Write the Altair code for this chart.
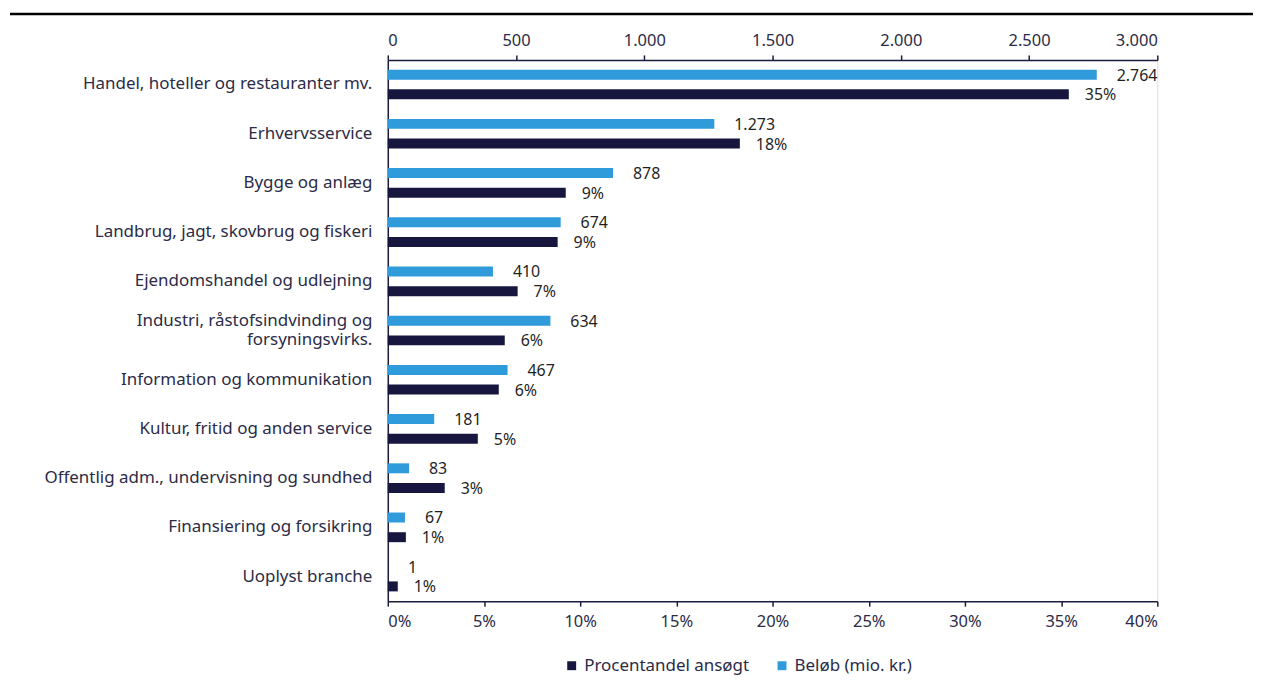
import altair as alt
import pandas as pd

categories = [
    "Handel, hoteller og restauranter mv.",
    "Erhvervsservice",
    "Bygge og anlæg",
    "Landbrug, jagt, skovbrug og fiskeri",
    "Ejendomshandel og udlejning",
    "Industri, råstofsindvinding og|forsyningsvirks.",
    "Information og kommunikation",
    "Kultur, fritid og anden service",
    "Offentlig adm., undervisning og sundhed",
    "Finansiering og forsikring",
    "Uoplyst branche",
]
amount = [2764, 1273, 878, 674, 410, 634, 467, 181, 83, 67, 1]
pct = [35.4, 18.3, 9.25, 8.83, 6.75, 6.08, 5.77, 4.68, 2.96, 0.94, 0.52]

amount_ticks = [0, 500, 1000, 1500, 2000, 2500, 3000]
pct_ticks = [0, 5, 10, 15, 20, 25, 30, 35, 40]

S_AMT = "Beløb (mio. kr.)"
S_PCT = "Procentandel ansøgt"

NAVY = "#16163f"
BLUE = "#2f9bdb"
AXIS = "#1c1c40"
LABEL = "#2b2b47"
FONT = "Noto Sans"
FS = 16.5

df = pd.DataFrame({"cat": categories, "amount": amount, "pct": pct})

y = alt.Y(
    "cat:N",
    sort=categories,
    scale=alt.Scale(paddingInner=0.2, paddingOuter=0.1),
    axis=alt.Axis(
        title=None,
        ticks=False,
        domain=True,
        domainColor=AXIS,
        domainWidth=1.5,
        labelFontSize=17,
        labelColor=LABEL,
        labelPadding=16,
        labelLimit=400,
        labelLineHeight=20,
        labelExpr="split(datum.label, '|')",
        labelOffset=alt.condition(
            "indexof(datum.value, '|') >= 0", alt.value(-10), alt.value(0)
        ),
    ),
)
yoff = alt.YOffset(
    "series:N",
    scale=alt.Scale(domain=[S_AMT, S_PCT], paddingInner=0, paddingOuter=0),
)
color = alt.Color(
    "series:N",
    scale=alt.Scale(domain=[S_PCT, S_AMT], range=[NAVY, BLUE]),
    legend=alt.Legend(
        title=None,
        orient="none",
        legendX=176,
        legendY=599,
        direction="horizontal",
        symbolType="square",
        symbolSize=80,
        symbolStrokeWidth=0,
        labelFontSize=17,
        labelLimit=400,
        labelColor=LABEL,
        columnPadding=24,
        padding=0,
    ),
)

x_amt = alt.X(
    "amount:Q",
    scale=alt.Scale(domain=[0, 3000], nice=False),
    axis=alt.Axis(
        orient="top",
        title=None,
        grid=False,
        values=amount_ticks,
        labelExpr="replace(format(datum.value, ','), ',', '.')",
        tickSize=5,
        tickColor=AXIS,
        tickWidth=1.5,
        domainColor=AXIS,
        domainWidth=1.5,
        labelFontSize=FS,
        labelColor=LABEL,
        labelPadding=6,
    ),
)
x_pct = alt.X(
    "pct:Q",
    scale=alt.Scale(domain=[0, 40], nice=False),
    axis=alt.Axis(
        orient="bottom",
        title=None,
        grid=False,
        values=pct_ticks,
        labelExpr="datum.value + '%'",
        tickSize=5,
        tickColor=AXIS,
        tickWidth=1.5,
        domainColor=AXIS,
        domainWidth=1.5,
        labelFontSize=FS,
        labelColor=LABEL,
        labelPadding=7,
    ),
)

base_amt = alt.Chart(df).transform_calculate(
    series=f"'{S_AMT}'",
    lbl="replace(format(datum.amount, ','), ',', '.')",
)
amt_bar = base_amt.mark_bar(size=10).encode(x=x_amt, y=y, yOffset=yoff, color=color)
amt_txt = base_amt.mark_text(
    align="left", baseline="middle", dx=20, dy=1, fontSize=16, font=FONT, color="#1f1f1f"
).encode(x=x_amt, y=y, yOffset=yoff, text="lbl:N")
amt_layer = alt.layer(amt_bar, amt_txt)

base_pct = alt.Chart(df).transform_calculate(
    series=f"'{S_PCT}'",
    lbl="format(datum.pct, '.0f') + '%'",
)
pct_bar = base_pct.mark_bar(size=10).encode(x=x_pct, y=y, yOffset=yoff, color=color)
pct_txt = base_pct.mark_text(
    align="left", baseline="middle", dx=16, dy=1, fontSize=16, font=FONT, color="#1f1f1f"
).encode(x=x_pct, y=y, yOffset=yoff, text="lbl:N")
pct_layer = alt.layer(pct_bar, pct_txt)

top_rule = alt.Chart(pd.DataFrame({"r": [0]})).mark_rule(
    color="#000000", strokeWidth=2.5
).encode(x=alt.value(-379), x2=alt.value(868), y=alt.value(-46))

chart = (
    alt.layer(amt_layer, pct_layer, top_rule)
    .resolve_scale(x="independent")
    .properties(
        width=772,
        height=543,
        padding={"left": 0, "top": 3, "right": 0, "bottom": 0},
    )
    .configure_view(stroke=None)
    .configure(font=FONT)
)

chart.save("out.html", embed_options={"renderer": "svg", "actions": False})
